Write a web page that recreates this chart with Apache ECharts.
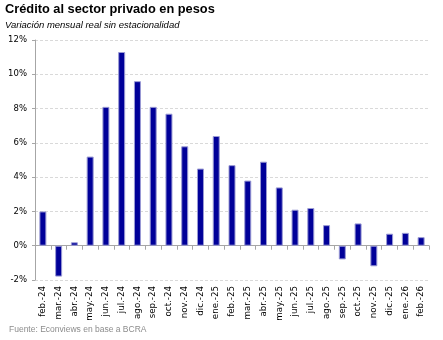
<!DOCTYPE html>
<html>
<head>
<meta charset="utf-8">
<script src="https://cdn.jsdelivr.net/npm/echarts@6/dist/echarts.min.js"></script>
<style>
  html, body { margin: 0; padding: 0; background: #fff; }
  #chart { width: 443px; height: 340px; }
</style>
</head>
<body>
<div id="chart"></div>
<script>
// Monthly categories (Feb-2024 .. Feb-2026)
const months = [
  'feb.-24', 'mar.-24', 'abr.-24', 'may.-24', 'jun.-24', 'jul.-24', 'ago.-24',
  'sep.-24', 'oct.-24', 'nov.-24', 'dic.-24', 'ene.-25', 'feb.-25', 'mar.-25',
  'abr.-25', 'may.-25', 'jun.-25', 'jul.-25', 'ago.-25', 'sep.-25', 'oct.-25',
  'nov.-25', 'dic.-25', 'ene.-26', 'feb.-26'
];

// Real monthly change, seasonally adjusted (%)
const realChange = [
  2.0, -1.8, 0.2, 5.2, 8.1, 11.3, 9.6,
  8.1, 7.7, 5.8, 4.5, 6.4, 4.7, 3.8,
  4.9, 3.4, 2.1, 2.2, 1.2, -0.8, 1.3,
  -1.2, 0.7, 0.75, 0.5
];

// Value-axis ticks (%)
const yTicks = { min: -2, max: 12, step: 2 };

const titleText = 'Crédito al sector privado en pesos';
const subtitleText = 'Variación mensual real sin estacionalidad';
const sourceText = 'Fuente: Econviews en base a BCRA';

const chart = echarts.init(document.getElementById('chart'), null, { renderer: 'canvas' });

chart.setOption({
  animation: false,
  backgroundColor: '#ffffff',
  textStyle: { fontFamily: 'Liberation Sans' },
  title: [
    {
      text: titleText,
      left: 5, top: 3, padding: 0,
      textStyle: { fontFamily: 'Liberation Sans', fontWeight: 'bold', fontSize: 12.8, color: '#000' }
    },
    {
      text: subtitleText,
      left: 5, top: 20, padding: 0,
      textStyle: { fontFamily: 'Liberation Sans', fontStyle: 'italic', fontWeight: 'normal', fontSize: 9.5, color: '#000' }
    },
    {
      text: sourceText,
      left: 9, top: 325, padding: 0,
      textStyle: { fontFamily: 'Liberation Sans', fontWeight: 'normal', fontSize: 8.5, color: '#8c8c8c' }
    }
  ],
  grid: { left: 35, top: 40, right: 14, bottom: 60, containLabel: false },
  xAxis: [
    {
      type: 'category',
      data: months,
      position: 'bottom',
      axisLine: { show: false, onZero: false },
      axisTick: { show: false },
      axisLabel: {
        rotate: 90,
        interval: 0,
        margin: 6,
        fontFamily: 'DejaVu Sans',
        fontSize: 8.7,
        color: '#000'
      },
      splitLine: { show: false }
    },
    {
      // zero baseline with boundary ticks
      type: 'category',
      data: months,
      position: 'top',
      axisLine: { show: true, onZero: true, lineStyle: { color: '#a6a6a6', width: 1 } },
      axisTick: { show: true, inside: true, length: 4, interval: 0, lineStyle: { color: '#a6a6a6' } },
      axisLabel: { show: false },
      splitLine: { show: false }
    }
  ],
  yAxis: {
    type: 'value',
    min: yTicks.min,
    max: yTicks.max,
    interval: yTicks.step,
    axisLine: { show: true, lineStyle: { color: '#a6a6a6' } },
    axisTick: { show: true, length: 3, lineStyle: { color: '#a6a6a6' } },
    axisLabel: {
      formatter: '{value}%',
      margin: 8,
      fontFamily: 'DejaVu Sans',
      fontSize: 8.5,
      color: '#000'
    },
    splitLine: { show: true, lineStyle: { color: '#d9d9d9', type: [3, 2], width: 1 } }
  },
  series: [
    {
      type: 'bar',
      xAxisIndex: 0,
      data: realChange,
      barWidth: 7,
      itemStyle: { color: '#000099', borderColor: '#9a9ad4', borderWidth: 1 }
    }
  ]
});
</script>
</body>
</html>
